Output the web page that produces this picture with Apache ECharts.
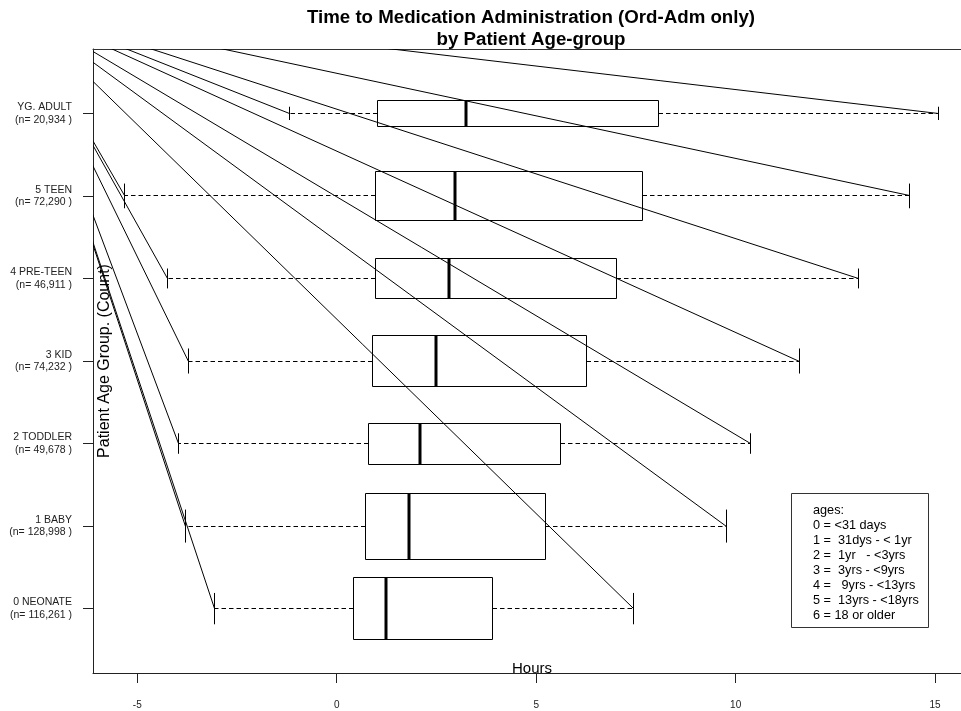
<!DOCTYPE html>
<html>
<head>
<meta charset="utf-8">
<script src="https://cdn.jsdelivr.net/npm/echarts@6/dist/echarts.min.js"></script>
<style>
  html, body { margin: 0; padding: 0; background: #fff; }
  #chart { width: 961px; height: 711px; }
</style>
</head>
<body>
<div id="chart"></div>
<script>
// Age groups, bottom to top
const groups = ['0 NEONATE', '1 BABY', '2 TODDLER', '3 KID', '4 PRE-TEEN', '5 TEEN', 'YG. ADULT'];
const counts = [116261, 128998, 49678, 74232, 46911, 72290, 20934];

// Five-number summaries, hours
const whiskerLow  = [-3.07, -3.80, -3.97, -3.72, -4.24, -5.31, -1.19];
const quartile1   = [0.42, 0.72, 0.79, 0.90, 0.96, 0.96, 1.03];
const median      = [1.23, 1.81, 2.08, 2.48, 2.82, 2.96, 3.24];
const quartile3   = [3.91, 5.24, 5.61, 6.26, 7.01, 7.66, 8.07];
const whiskerHigh = [7.43, 9.76, 10.38, 11.60, 13.09, 14.36, 15.09];

// Every whisker end is joined by a straight segment to this point
const rayAnchor = [-8.09, 8.32];

const xTicks = [-5, 0, 5, 10, 15];
const ageKey = [
  'ages:',
  '0 = <31 days',
  '1 =  31dys - < 1yr',
  '2 =  1yr   - <3yrs',
  '3 =  3yrs - <9yrs',
  '4 =   9yrs - <13yrs',
  '5 =  13yrs - <18yrs',
  '6 = 18 or older'
];

const FONT = 'Liberation Sans';
const maxCount = Math.max(...counts);
const positions = groups.map((g, i) => i + 1);

const boxData = groups.map((g, i) => [
  positions[i], whiskerLow[i], quartile1[i], median[i], quartile3[i], whiskerHigh[i], counts[i]
]);

const crisp = v => Math.round(v - 0.5) + 0.5;

function renderBox(params, api) {
  const pos = api.value(0);
  const lo = api.value(1), a = api.value(2), m = api.value(3), b = api.value(4), hi = api.value(5);
  const n = api.value(6);
  // box height grows with the square root of the group size
  const half = 0.4 * Math.sqrt(n / maxCount);
  const pt = (x, y) => api.coord([x, y]);

  const yc = crisp(pt(0, pos)[1]);
  const yTop = crisp(pt(0, pos + half)[1]);
  const yBot = crisp(pt(0, pos - half)[1]);
  const capTop = pt(0, pos + half / 2)[1];
  const capBot = pt(0, pos - half / 2)[1];
  const xa = crisp(pt(a, pos)[0]);
  const xb = crisp(pt(b, pos)[0]);
  const xm = Math.round(pt(m, pos)[0]);
  const xlo = crisp(pt(lo, pos)[0]);
  const xhi = crisp(pt(hi, pos)[0]);
  const anc = pt(rayAnchor[0], rayAnchor[1]);

  const solid = { stroke: '#000', lineWidth: 1, fill: null };
  const dashed = { stroke: '#000', lineWidth: 1, lineDash: [4.5, 3] };

  return {
    type: 'group',
    children: [
      { type: 'line', shape: { x1: anc[0], y1: anc[1], x2: xlo, y2: yc }, style: solid },
      { type: 'line', shape: { x1: anc[0], y1: anc[1], x2: xhi, y2: yc }, style: solid },
      { type: 'line', shape: { x1: xa, y1: yc, x2: xlo, y2: yc }, style: dashed },
      { type: 'line', shape: { x1: xb, y1: yc, x2: xhi, y2: yc }, style: dashed },
      { type: 'line', shape: { x1: xlo, y1: capTop, x2: xlo, y2: capBot }, style: solid },
      { type: 'line', shape: { x1: xhi, y1: capTop, x2: xhi, y2: capBot }, style: solid },
      { type: 'rect', shape: { x: xa, y: yTop, width: xb - xa, height: yBot - yTop }, style: solid },
      { type: 'line', shape: { x1: xm, y1: yTop, x2: xm, y2: yBot }, style: { stroke: '#000', lineWidth: 3 } }
    ]
  };
}

const chart = echarts.init(document.getElementById('chart'), null, { renderer: 'canvas' });

chart.setOption({
  backgroundColor: '#fff',
  animation: false,
  title: {
    text: 'Time to Medication Administration (Ord-Adm only)\nby Patient Age-group',
    left: 526,
    top: 2,
    textAlign: 'center',
    textStyle: { fontFamily: FONT, fontWeight: 'bold', fontSize: 18.7, lineHeight: 22, color: '#000' }
  },
  grid: { left: 93, right: -10, top: 49, bottom: 38, containLabel: false, outerBoundsMode: 'none' },
  xAxis: [
    {
      type: 'value',
      min: -6.11,
      max: 15.9,
      position: 'bottom',
      name: 'Hours',
      nameLocation: 'middle',
      nameGap: -12,
      nameMoveOverlap: false,
      nameTextStyle: { fontFamily: FONT, fontSize: 15, color: '#000' },
      axisLine: { show: true, lineStyle: { color: '#222', width: 1 } },
      axisTick: { show: true, length: 10, customValues: xTicks, lineStyle: { color: '#222' } },
      axisLabel: { show: true, customValues: xTicks, margin: 27, fontFamily: FONT, fontSize: 10, color: '#222' },
      splitLine: { show: false }
    },
    {
      type: 'value',
      min: -6.11,
      max: 15.9,
      position: 'top',
      axisLine: { show: true, onZero: false, lineStyle: { color: '#333', width: 1 } },
      axisTick: { show: false },
      axisLabel: { show: false },
      splitLine: { show: false }
    }
  ],
  yAxis: {
    type: 'value',
    min: 0.22,
    max: 7.78,
    name: 'Patient Age Group. (Count)',
    nameLocation: 'middle',
    nameGap: -20,
    nameMoveOverlap: false,
    nameTextStyle: { fontFamily: FONT, fontSize: 16, color: '#000' },
    axisLine: { show: true, onZero: false, lineStyle: { color: '#222', width: 1 } },
    axisTick: { show: true, length: 10, customValues: positions, lineStyle: { color: '#222' } },
    axisLabel: {
      show: true,
      customValues: positions,
      margin: 21,
      fontFamily: FONT,
      fontSize: 10.5,
      lineHeight: 12.5,
      color: '#222',
      align: 'right',
      padding: [3, 0, 0, 0],
      formatter: v => {
        const i = Math.round(v) - 1;
        return groups[i] + '\n(n= ' + counts[i].toLocaleString('en-US') + ' )';
      }
    },
    splitLine: { show: false }
  },
  series: [
    {
      type: 'custom',
      name: 'time to administration',
      xAxisIndex: 0,
      yAxisIndex: 0,
      clip: true,
      renderItem: renderBox,
      encode: { x: [1, 2, 3, 4, 5], y: 0 },
      data: boxData
    }
  ],
  graphic: [
    {
      type: 'group',
      children: [
        {
          type: 'rect',
          shape: { x: 791.5, y: 493.5, width: 137, height: 134 },
          style: { fill: '#fff', stroke: '#333', lineWidth: 1 }
        },
        {
          type: 'text',
          x: 813,
          y: 502.5,
          style: { text: ageKey.join('\n'), font: '12.7px "Liberation Sans"', lineHeight: 15, fill: '#000' }
        }
      ]
    }
  ]
});
</script>
</body>
</html>
